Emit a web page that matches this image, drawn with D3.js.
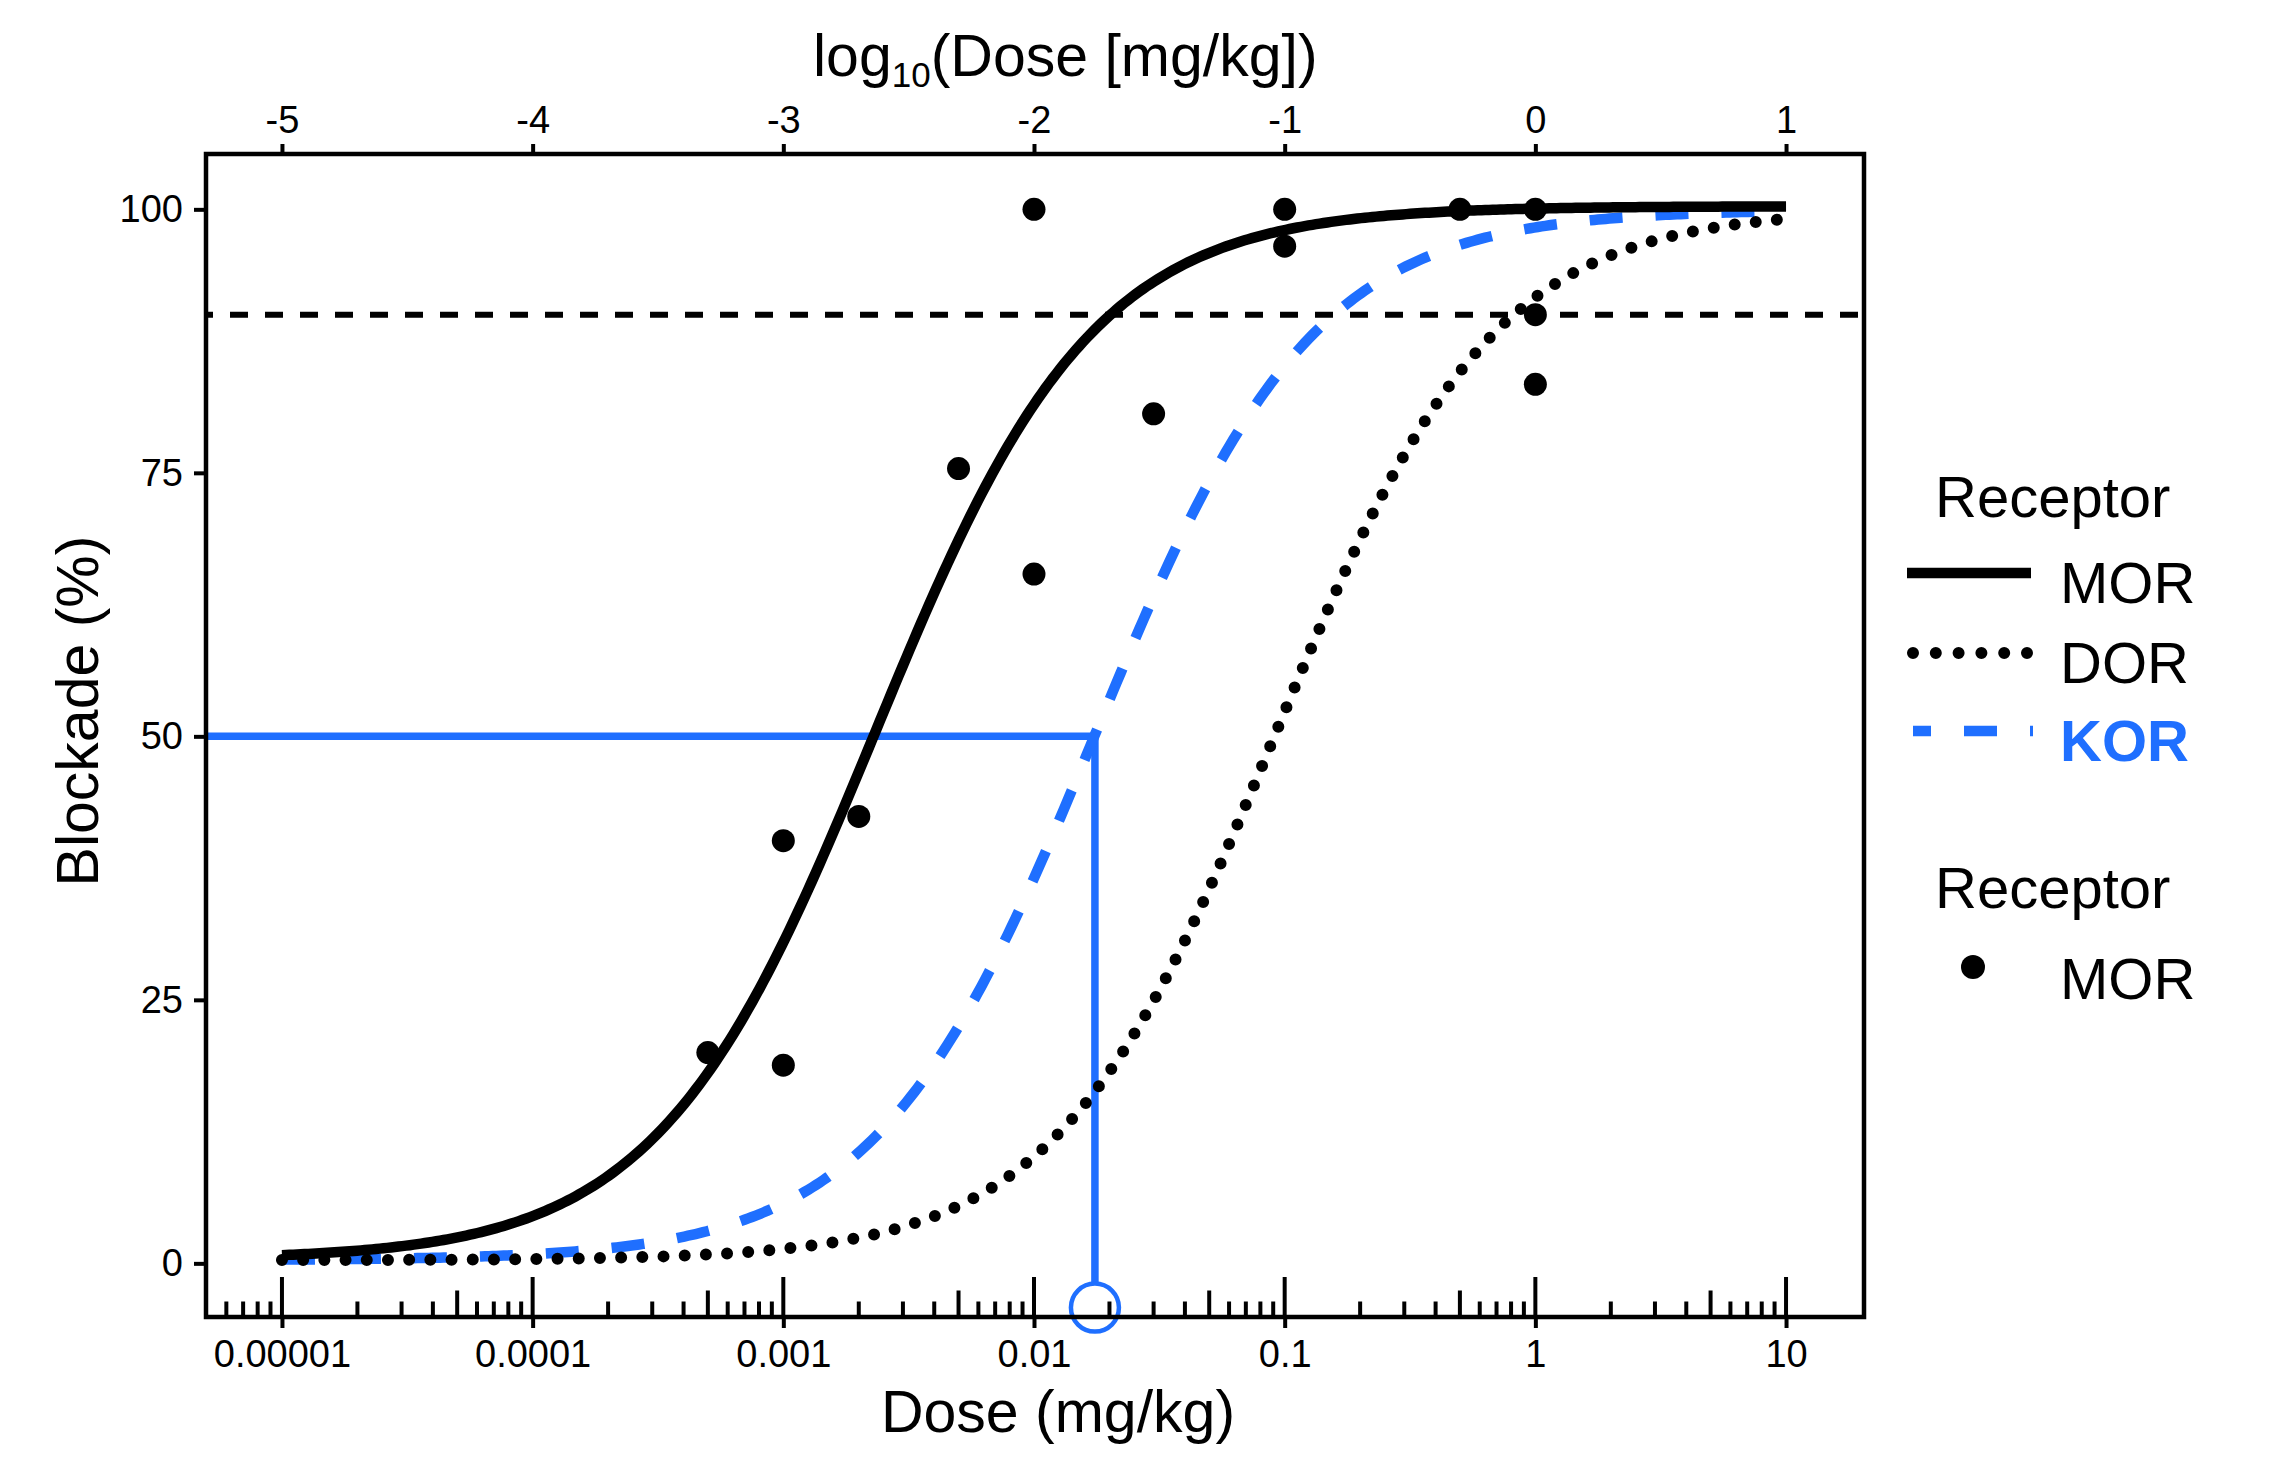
<!DOCTYPE html>
<html><head><meta charset="utf-8">
<script src="https://cdn.jsdelivr.net/npm/d3@7"></script>
<style>
body{margin:0;background:#fff}
svg{display:block}
text{font-family:"Liberation Sans",Arial,Helvetica,sans-serif;fill:#000}
</style>
</head><body>
<svg id="c" width="2283" height="1472"></svg>
<script>
// ---------- data ----------
const receptors   = ["MOR", "DOR", "KOR"];
const ec50        = [0.00232, 0.0915, 0.0175];   // mg/kg, read from 50% crossings
const hillSlope   = [1, 1, 1];
const fitTop      = [100.3, 100, 100];
const fitBottom   = [0.35, 0.3, 0.3];
const curveDoseRange = [1e-5, 10];

const pointReceptor = ["MOR","MOR","MOR","MOR","MOR","MOR","MOR","MOR","MOR","MOR","MOR","MOR","MOR","MOR"];
const pointDose     = [0.0005, 0.001, 0.001, 0.002, 0.005, 0.01, 0.01, 0.03, 0.1, 0.1, 0.5, 1, 1, 1];
const pointBlockade = [20, 40.1, 18.8, 42.4, 75.4, 100, 65.4, 80.6, 100, 96.5, 100, 100, 90, 83.4];

const doseTicks       = [1e-5, 1e-4, 1e-3, 1e-2, 1e-1, 1, 10];
const doseTickLabels  = ["0.00001", "0.0001", "0.001", "0.01", "0.1", "1", "10"];
const log10TickLabels = ["-5", "-4", "-3", "-2", "-1", "0", "1"];
const blockadeTicks   = [0, 25, 50, 75, 100];

const thresholdLevel = 90;
const halfLevel      = 50;
const korSegmentEnd  = -1.8;
const korMarkerLevel = -4.2;

// ---------- styles ----------
const blue = "#1f6fff";
const curveStyle = {
  MOR: {color: "#000", width: 10.5, dash: null, cap: "butt"},
  DOR: {color: "#000", width: 12, dash: "0 21.2", cap: "round"},
  KOR: {color: blue, width: 10.5, dash: "33 33", cap: "butt"}
};

const svg = d3.select("#c");
const L = 206, R = 1864, T = 154, B = 1317;

const x = d3.scaleLog().domain([Math.pow(10, -5.303), Math.pow(10, 1.311)]).range([L, R]);
const y = d3.scaleLinear().domain([-5.09, 105.25]).range([B, T]);

const hill = (i, d) => fitBottom[i] + (fitTop[i] - fitBottom[i]) /
  (1 + Math.pow(10, hillSlope[i] * (Math.log10(ec50[i]) - Math.log10(d))));

// ---------- reference lines ----------
svg.append("line")
  .attr("x1", L).attr("x2", R).attr("y1", y(thresholdLevel)).attr("y2", y(thresholdLevel))
  .attr("stroke", "#000").attr("stroke-width", 6)
  .attr("stroke-dasharray", "18 17").attr("stroke-dashoffset", 11);

const korIdx = receptors.indexOf("KOR");
svg.append("path")
  .attr("d", `M${L},${y(halfLevel)}H${x(ec50[korIdx])}V${y(korSegmentEnd)}`)
  .attr("fill", "none").attr("stroke", blue).attr("stroke-width", 7.5);

// ---------- curves ----------
const lineGen = d3.line().x(d => x(d[0])).y(d => y(d[1]));
const nSamp = 400;
const lo = Math.log10(curveDoseRange[0]), hi = Math.log10(curveDoseRange[1]);
["KOR", "DOR", "MOR"].forEach(name => {
  const i = receptors.indexOf(name);
  const pts = d3.range(nSamp + 1).map(k => {
    const d = Math.pow(10, lo + (hi - lo) * k / nSamp);
    return [d, hill(i, d)];
  });
  const s = curveStyle[name];
  svg.append("path").attr("d", lineGen(pts))
    .attr("fill", "none").attr("stroke", s.color).attr("stroke-width", s.width)
    .attr("stroke-linecap", s.cap)
    .attr("stroke-dasharray", s.dash);
});

// ---------- points ----------
svg.append("g").selectAll("circle").data(pointDose).join("circle")
  .attr("cx", d => x(d)).attr("cy", (d, i) => y(pointBlockade[i]))
  .attr("r", 11.5).attr("fill", "#000");

// KOR marker
svg.append("circle")
  .attr("cx", x(ec50[korIdx])).attr("cy", y(korMarkerLevel)).attr("r", 24)
  .attr("fill", "none").attr("stroke", blue).attr("stroke-width", 4.5);

// ---------- log ticks (inside, bottom) ----------
const minor = [];
for (let e = -6; e <= 1; e++) {
  for (let m = 1; m <= 9; m++) {
    const v = m * Math.pow(10, e);
    const px = x(v);
    if (px > L + 3 && px < R - 6) minor.push({v, m});
  }
}
svg.append("g").selectAll("line").data(minor).join("line")
  .attr("x1", d => x(d.v)).attr("x2", d => x(d.v))
  .attr("y1", B).attr("y2", d => d.m === 1 ? B - 40 : (d.m === 5 ? B - 26.5 : B - 15.5))
  .attr("stroke", "#000").attr("stroke-width", 4);

// ---------- axes ----------
function styleAxis(g) {
  g.select(".domain").remove();
  g.selectAll(".tick line").attr("stroke", "#000").attr("stroke-width", 4);
  g.selectAll(".tick text").attr("font-size", 38).attr("fill", "#000")
    .attr("font-family", '"Liberation Sans",Arial,Helvetica,sans-serif');
}
svg.append("g").attr("transform", `translate(0,${B})`)
  .call(d3.axisBottom(x).tickValues(doseTicks).tickFormat((d, i) => doseTickLabels[i])
    .tickSize(11).tickPadding(12))
  .call(styleAxis);

svg.append("g").attr("transform", `translate(0,${T})`)
  .call(d3.axisTop(x).tickValues(doseTicks).tickFormat((d, i) => log10TickLabels[i])
    .tickSize(10).tickPadding(11))
  .call(styleAxis);

svg.append("g").attr("transform", `translate(${L},0)`)
  .call(d3.axisLeft(y).tickValues(blockadeTicks).tickFormat(d => d)
    .tickSize(12).tickPadding(11))
  .call(styleAxis);

// panel border
svg.append("rect").attr("x", L).attr("y", T).attr("width", R - L).attr("height", B - T)
  .attr("fill", "none").attr("stroke", "#000").attr("stroke-width", 4.5);

// ---------- axis titles ----------
svg.append("text").attr("x", 1058).attr("y", 1432).attr("text-anchor", "middle")
  .attr("font-size", 59).text("Dose (mg/kg)");

svg.append("text").attr("transform", "translate(98,711) rotate(-90)")
  .attr("text-anchor", "middle").attr("font-size", 59).text("Blockade (%)");

const topTitle = svg.append("text").attr("x", 813).attr("y", 76).attr("font-size", 59);
topTitle.append("tspan").text("log");
topTitle.append("tspan").attr("font-size", 35).attr("dy", 11).text("10");
topTitle.append("tspan").attr("dy", -11).text("(Dose [mg/kg])");

// ---------- legend ----------
const lg = svg.append("g");
lg.append("text").attr("x", 1935).attr("y", 516.5).attr("font-size", 58).text("Receptor");
const keyY = [573, 653, 731];
const keyBase = [602.6, 683, 760.7];
receptors.forEach((name, i) => {
  const s = curveStyle[name];
  const x0 = name === "MOR" ? 1907 : 1913, x1 = name === "MOR" ? 2031 : 2033;
  lg.append("line").attr("x1", x0).attr("x2", x1).attr("y1", keyY[i]).attr("y2", keyY[i])
    .attr("stroke", s.color).attr("stroke-width", s.width)
    .attr("stroke-linecap", s.cap)
    .attr("stroke-dasharray", name === "DOR" ? "0 22.8" : s.dash)
    .attr("stroke-dashoffset", name === "KOR" ? 15 : 0);
  lg.append("text").attr("x", 2060).attr("y", keyBase[i]).attr("font-size", 58)
    .attr("font-weight", name === "KOR" ? "bold" : "normal")
    .style("fill", name === "KOR" ? blue : "#000").text(name);
});
lg.append("text").attr("x", 1935).attr("y", 907.7).attr("font-size", 58).text("Receptor");
lg.append("circle").attr("cx", 1973).attr("cy", 967).attr("r", 12).attr("fill", "#000");
lg.append("text").attr("x", 2060).attr("y", 998.7).attr("font-size", 58).text(pointReceptor[0]);
</script>
</body></html>
